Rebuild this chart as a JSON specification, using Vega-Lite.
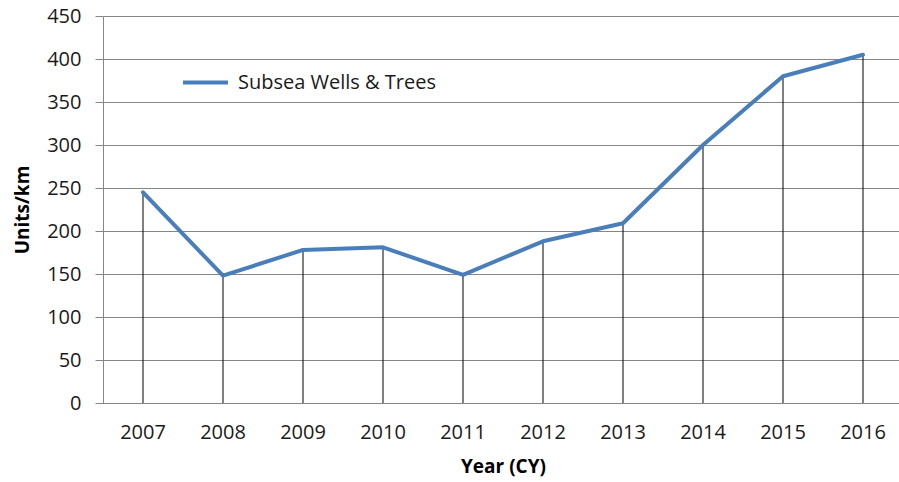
{
  "$schema": "https://vega.github.io/schema/vega-lite/v6.json",
  "autosize": "none",
  "padding": {"left": 103, "top": 16, "right": 0, "bottom": 79},
  "width": 800,
  "height": 387,
  "background": "white",
  "config": {
    "font": "Open Sans",
    "view": {"stroke": null}
  },
  "data": {
    "values": [
      {"year": "2007", "value": 245, "series": "Subsea Wells & Trees"},
      {"year": "2008", "value": 148, "series": "Subsea Wells & Trees"},
      {"year": "2009", "value": 178, "series": "Subsea Wells & Trees"},
      {"year": "2010", "value": 181, "series": "Subsea Wells & Trees"},
      {"year": "2011", "value": 149, "series": "Subsea Wells & Trees"},
      {"year": "2012", "value": 188, "series": "Subsea Wells & Trees"},
      {"year": "2013", "value": 209, "series": "Subsea Wells & Trees"},
      {"year": "2014", "value": 300, "series": "Subsea Wells & Trees"},
      {"year": "2015", "value": 380, "series": "Subsea Wells & Trees"},
      {"year": "2016", "value": 405, "series": "Subsea Wells & Trees"}
    ]
  },
  "encoding": {
    "x": {
      "field": "year",
      "type": "ordinal",
      "scale": {"paddingInner": 0, "paddingOuter": 0},
      "axis": {
        "title": "Year (CY)",
        "titleFont": "Open Sans",
        "titleFontSize": 19,
        "titleFontWeight": "bold",
        "titleColor": "#000000",
        "titlePadding": 15,
        "labelAngle": 0,
        "labelFont": "Open Sans",
        "labelFontSize": 20,
        "labelColor": "#1a1a1a",
        "labelPadding": 19,
        "ticks": false,
        "domainColor": "#868686",
        "domainWidth": 1,
        "grid": false
      }
    },
    "y": {
      "field": "value",
      "type": "quantitative",
      "scale": {"domain": [0, 450], "nice": false},
      "axis": {
        "title": "Units/km",
        "titleFont": "Open Sans",
        "titleFontSize": 19,
        "titleFontWeight": "bold",
        "titleColor": "#000000",
        "titlePadding": 14,
        "values": [0, 50, 100, 150, 200, 250, 300, 350, 400, 450],
        "labelFont": "Open Sans",
        "labelFontSize": 20,
        "labelColor": "#1a1a1a",
        "labelPadding": 14,
        "tickSize": 8,
        "tickColor": "#868686",
        "domainColor": "#868686",
        "gridColor": "#868686",
        "gridWidth": 1
      }
    }
  },
  "layer": [
    {
      "mark": {"type": "rule", "color": "#000000", "strokeWidth": 1},
      "encoding": {
        "y2": {"datum": 0}
      }
    },
    {
      "mark": {"type": "line", "strokeWidth": 4, "strokeCap": "round", "strokeJoin": "round"},
      "encoding": {
        "color": {
          "field": "series",
          "type": "nominal",
          "scale": {"range": ["#4a7ebb"]},
          "legend": {
            "title": null,
            "orient": "none",
            "legendX": 78,
            "legendY": 42,
            "symbolType": "stroke",
            "symbolSize": 2025,
            "symbolStrokeWidth": 4,
            "labelFont": "Open Sans",
            "labelFontSize": 20,
            "labelColor": "#1a1a1a",
            "labelOffset": 8,
            "labelLimit": 500
          }
        }
      }
    }
  ]
}
